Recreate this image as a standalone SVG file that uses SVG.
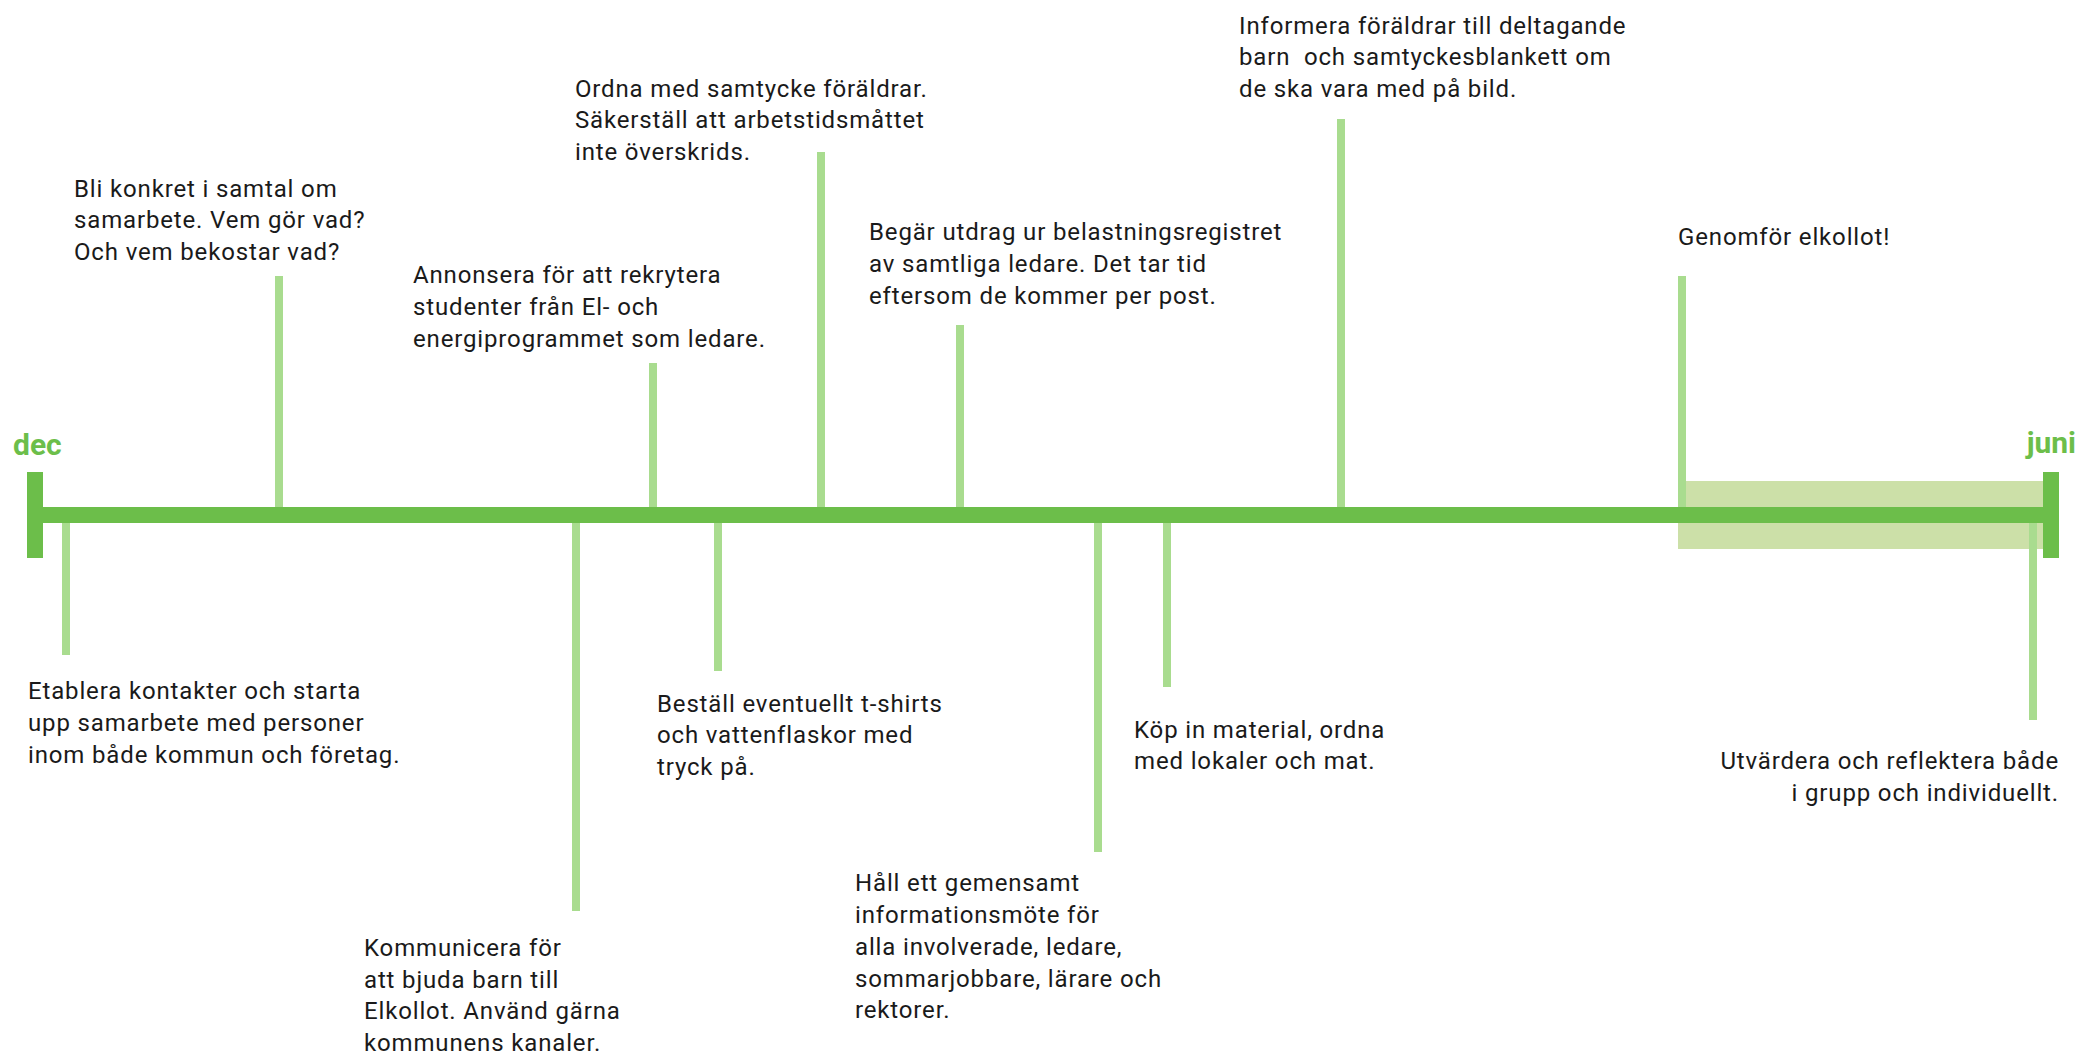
<svg xmlns="http://www.w3.org/2000/svg" width="2080" height="1055" viewBox="0 0 2080 1055">
<style>
.t{font-family:Roboto,"Liberation Sans",sans-serif;font-size:24px;letter-spacing:0.85px;fill:#1a1a1a}
.m{font-family:Roboto,"Liberation Sans",sans-serif;font-size:30px;font-weight:bold;fill:#6cbe4a}
.tick{fill:#a9dc8f}
.axis{fill:#6cbe4a}
</style>
<rect width="2080" height="1055" fill="#ffffff"/>
<rect x="1678" y="481" width="365" height="68" fill="#cce0a8"/>
<g id="connectors">
<rect class="tick" x="275" y="276" width="8" height="231"/>
<rect class="tick" x="649" y="363" width="8" height="144"/>
<rect class="tick" x="817" y="152" width="8" height="355"/>
<rect class="tick" x="956" y="325" width="8" height="182"/>
<rect class="tick" x="1337" y="119" width="8" height="388"/>
<rect class="tick" x="1678" y="276" width="8" height="231"/>
<rect class="tick" x="62" y="523" width="8" height="132"/>
<rect class="tick" x="572" y="523" width="8" height="388"/>
<rect class="tick" x="714" y="523" width="8" height="148"/>
<rect class="tick" x="1094" y="523" width="8" height="329"/>
<rect class="tick" x="1163" y="523" width="8" height="164"/>
<rect class="tick" x="2029" y="523" width="8" height="197"/>
</g>
<g id="axis">
<rect class="axis" x="27" y="507" width="2032" height="16"/>
<rect class="axis" x="27" y="472" width="16" height="86"/>
<rect class="axis" x="2043" y="472" width="16" height="86"/>
<text class="m" x="13" y="455">dec</text>
<text class="m" x="2076" y="453" text-anchor="end">juni</text>
</g>
<g id="n1"><text class="t"><tspan x="74" y="197">Bli konkret i samtal om</tspan><tspan x="74" y="228">samarbete. Vem gör vad?</tspan><tspan x="74" y="260">Och vem bekostar vad?</tspan></text></g>
<g id="n2"><text class="t"><tspan x="413" y="283">Annonsera för att rekrytera</tspan><tspan x="413" y="315">studenter från El- och</tspan><tspan x="413" y="347">energiprogrammet som ledare.</tspan></text></g>
<g id="n3"><text class="t"><tspan x="575" y="97">Ordna med samtycke föräldrar.</tspan><tspan x="575" y="128">Säkerställ att arbetstidsmåttet</tspan><tspan x="575" y="160">inte överskrids.</tspan></text></g>
<g id="n4"><text class="t"><tspan x="869" y="240">Begär utdrag ur belastningsregistret</tspan><tspan x="869" y="272">av samtliga ledare. Det tar tid</tspan><tspan x="869" y="304">eftersom de kommer per post.</tspan></text></g>
<g id="n5"><text class="t" xml:space="preserve"><tspan x="1239" y="34">Informera föräldrar till deltagande</tspan><tspan x="1239" y="65">barn  och samtyckesblankett om</tspan><tspan x="1239" y="97">de ska vara med på bild.</tspan></text></g>
<g id="n6"><text class="t" x="1678" y="245">Genomför elkollot!</text></g>
<g id="n7"><text class="t"><tspan x="28" y="699">Etablera kontakter och starta</tspan><tspan x="28" y="731">upp samarbete med personer</tspan><tspan x="28" y="763">inom både kommun och företag.</tspan></text></g>
<g id="n8"><text class="t"><tspan x="364" y="956">Kommunicera för</tspan><tspan x="364" y="988">att bjuda barn till</tspan><tspan x="364" y="1019">Elkollot. Använd gärna</tspan><tspan x="364" y="1051">kommunens kanaler.</tspan></text></g>
<g id="n9"><text class="t"><tspan x="657" y="712">Beställ eventuellt t-shirts</tspan><tspan x="657" y="743">och vattenflaskor med</tspan><tspan x="657" y="775">tryck på.</tspan></text></g>
<g id="n10"><text class="t"><tspan x="855" y="891">Håll ett gemensamt</tspan><tspan x="855" y="923">informationsmöte för</tspan><tspan x="855" y="955">alla involverade, ledare,</tspan><tspan x="855" y="987">sommarjobbare, lärare och</tspan><tspan x="855" y="1018">rektorer.</tspan></text></g>
<g id="n11"><text class="t"><tspan x="1134" y="738">Köp in material, ordna</tspan><tspan x="1134" y="769">med lokaler och mat.</tspan></text></g>
<g id="n12"><text class="t" text-anchor="end"><tspan x="2059" y="769">Utvärdera och reflektera både</tspan><tspan x="2059" y="801">i grupp och individuellt.</tspan></text></g>
</svg>
